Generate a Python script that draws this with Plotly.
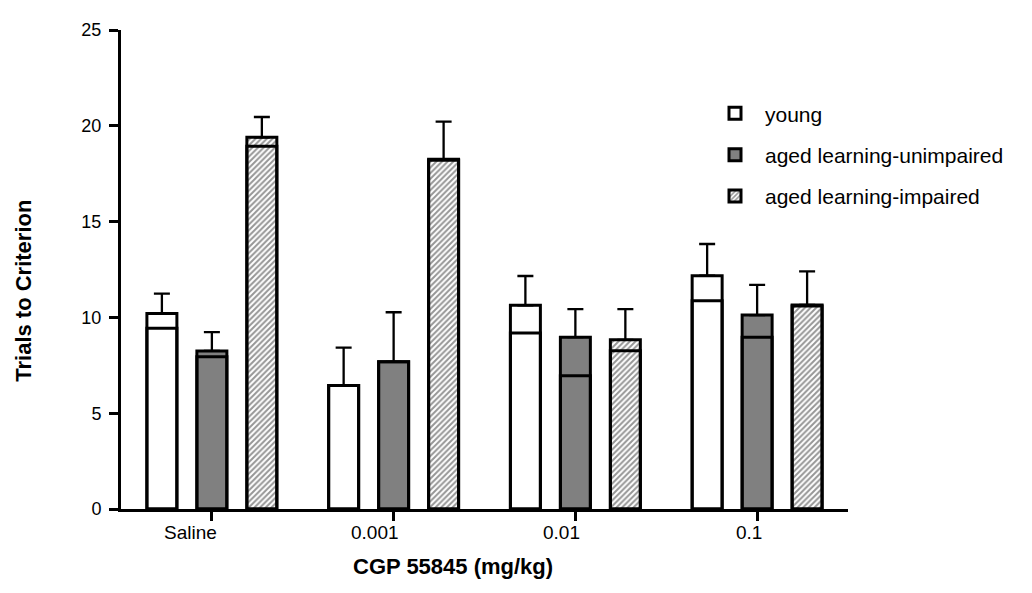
import plotly.graph_objects as go

doses = ["Saline", "0.001", "0.01", "0.1"]
groups = ["young", "aged learning-unimpaired", "aged learning-impaired"]

young_mean = [10.2, 6.44, 10.63, 12.18]
young_inner = [9.43, 6.44, 9.19, 10.87]
young_err = [1.04, 1.98, 1.53, 1.65]

unimp_mean = [8.25, 7.68, 8.97, 10.12]
unimp_inner = [7.94, 7.68, 6.96, 8.97]
unimp_err = [0.98, 2.59, 1.46, 1.58]

imp_mean = [19.4, 18.25, 8.83, 10.65]
imp_inner = [18.93, 18.2, 8.26, 10.6]
imp_err = [1.06, 1.97, 1.6, 1.75]

y_ticks = [0, 5, 10, 15, 20, 25]

FONT = "Arial, Liberation Sans, sans-serif"

# page offset (body margin) compensation
OFF = 8
PL, PR, PT, PB = 121, 848, 24, 509  # target plot area in screen pixels
PW, PH = PR - PL, PB - PT

styles = [
    dict(color="white"),
    dict(color="#808080"),
    dict(color="white", pattern=dict(shape="/", fgcolor="#2e2e2e", bgcolor="white",
                                     size=4, solidity=0.5)),
]
means = [young_mean, unimp_mean, imp_mean]
inners = [young_inner, unimp_inner, imp_inner]
errs = [young_err, unimp_err, imp_err]

fig = go.Figure()
for i, name in enumerate(groups):
    fig.add_trace(go.Bar(
        x=doses, y=means[i], name=name, offsetgroup=str(i), legendgroup=str(i),
        marker=dict(line=dict(color="black", width=3), **styles[i]),
        error_y=dict(type="data", array=errs[i], arrayminus=[0] * len(doses),
                     symmetric=False, color="black", thickness=2.3, width=8),
    ))
for i, name in enumerate(groups):
    fig.add_trace(go.Bar(
        x=doses, y=inners[i], name=name, offsetgroup=str(i), showlegend=False,
        marker=dict(color="rgba(0,0,0,0)", line=dict(color="black", width=3)),
        hoverinfo="skip",
    ))

annotations = []
for k, d in enumerate(doses):
    annotations.append(dict(x=k, y=0, xref="x", yref="paper", text=d, showarrow=False,
                            xanchor="right", yanchor="middle", xshift=7, yshift=-23,
                            font=dict(family=FONT, size=19, color="black")))
annotations.append(dict(x=(453 - PL) / PW, y=(PB - 567) / PH, xref="paper", yref="paper",
                        text="<b>CGP 55845 (mg/kg)</b>", showarrow=False,
                        xanchor="center", yanchor="middle",
                        font=dict(family=FONT, size=22, color="black")))
annotations.append(dict(x=(24 - PL) / PW, y=(PB - 288) / PH, xref="paper", yref="paper",
                        text="<b>Trials to Criterion</b>", showarrow=False, textangle=-90,
                        xanchor="center", yanchor="middle",
                        font=dict(family=FONT, size=22, color="black")))

fig.update_layout(
    width=1032, height=593,
    margin=dict(l=PL - OFF, r=1032 - (PR - OFF), t=PT - OFF, b=593 - (PB - OFF)),
    plot_bgcolor="white", paper_bgcolor="white",
    barmode="group", bargap=0.175, bargroupgap=0.4,
    showlegend=True,
    legend=dict(x=(705 - PL) / PW, y=(PB - 88) / PH, xanchor="left", yanchor="top",
                bgcolor="rgba(0,0,0,0)", tracegroupgap=11, itemwidth=50,
                font=dict(family=FONT, size=21, color="black")),
    annotations=annotations,
    font=dict(family=FONT, color="black"),
)
fig.update_xaxes(type="category", range=[-0.5, 3.5], showline=True, linewidth=3,
                 linecolor="black", ticks="outside", ticklen=9, tickwidth=3,
                 tickcolor="black", showticklabels=False, showgrid=False)
fig.update_yaxes(range=[0, 25], tickvals=y_ticks, showline=True, linewidth=3,
                 linecolor="black", ticks="outside", ticklen=9, tickwidth=2.5,
                 tickcolor="black", showgrid=False, zeroline=False,
                 ticklabelstandoff=4,
                 tickfont=dict(family=FONT, size=18, color="black"))

fig.write_html("out.html")
